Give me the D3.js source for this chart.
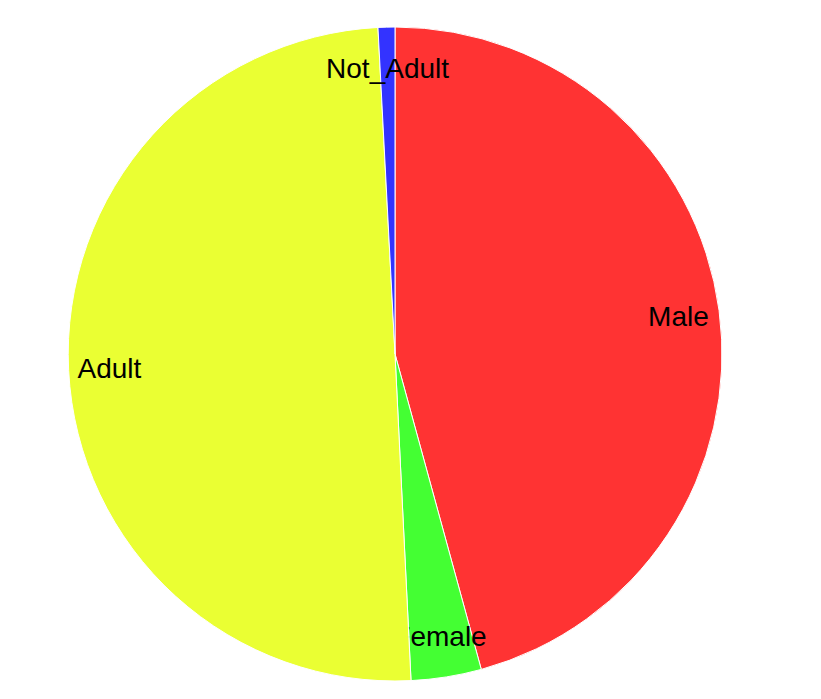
<!DOCTYPE html>
<html>
<head>
<meta charset="utf-8">
<script src="https://cdn.jsdelivr.net/npm/d3@7"></script>
<style>
html,body{margin:0;padding:0;background:#fff;}
text{font-family:"Liberation Sans",Arial,sans-serif;}
</style>
</head>
<body>
<script>
const categories = ["Male", "Female", "Adult", "Not_Adult"];
const values = [45.75, 3.47, 49.95, 0.83];
const colors = ["#ff3333", "#44ff33", "#eaff33", "#3333ff"];

const W = 821, H = 699;
const cx = 395, cy = 354, R = 327;

const svg = d3.select("body").append("svg").attr("width", W).attr("height", H);
const g = svg.append("g").attr("transform", `translate(${cx},${cy})`);

const data = categories.map((c, i) => ({name: c, value: values[i], color: colors[i]}));
const pie = d3.pie().sort(null).value(d => d.value);
const arc = d3.arc().innerRadius(0).outerRadius(R);
const labelArc = d3.arc().innerRadius(R - 41).outerRadius(R - 41);

const slices = g.selectAll("g.slice").data(pie(data)).enter().append("g").attr("class", "slice");
slices.append("path")
  .attr("d", arc)
  .attr("fill", d => d.data.color)
  .attr("stroke", "#fff")
  .attr("stroke-width", 1);
slices.append("text")
  .attr("transform", d => `translate(${labelArc.centroid(d)})`)
  .attr("text-anchor", "middle")
  .attr("dy", "0.35em")
  .attr("font-size", 28)
  .attr("fill", "#000")
  .text(d => d.data.name);
</script>
</body>
</html>
